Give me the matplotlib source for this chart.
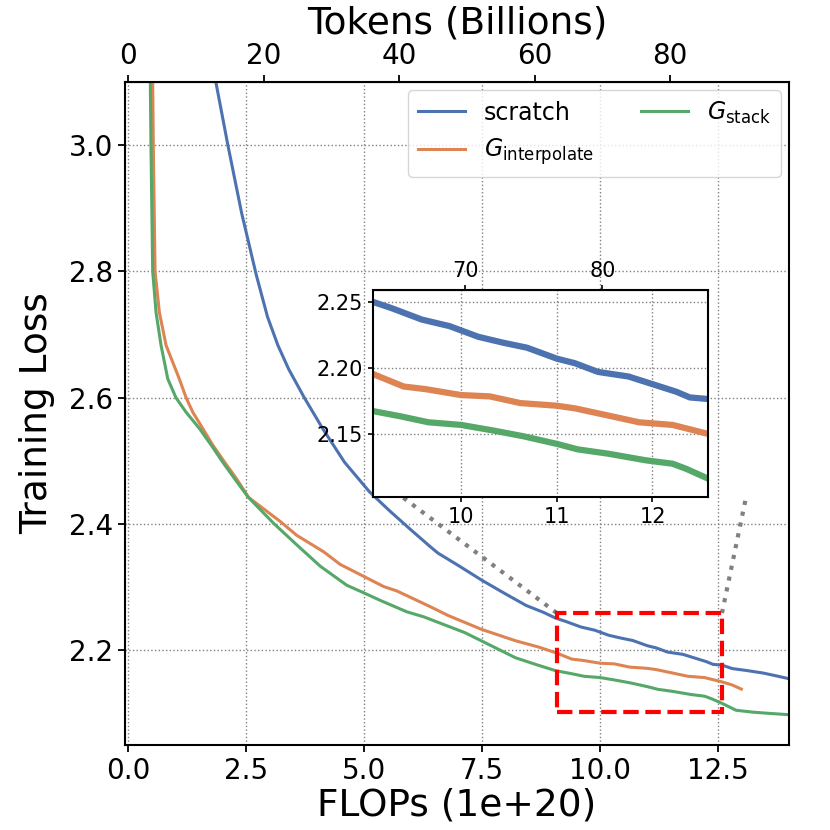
import numpy as np
import matplotlib
matplotlib.use("Agg")
import matplotlib.pyplot as plt
import matplotlib.patches as patches

# ---- data (x: FLOPs in 1e20, y: training loss) ----
scratch_x = [1.80, 1.86, 2.11, 2.40, 2.71, 2.95, 3.17, 3.40, 3.73, 4.12, 4.58, 5.11,
             5.55, 6.00, 6.40, 6.56, 7.00, 7.49, 8.00, 8.43, 8.80,
             9.06, 9.27, 9.59, 9.88, 10.18, 10.44, 10.69, 11.00, 11.19, 11.43, 11.75,
             12.00, 12.25, 12.39, 12.58, 12.80, 13.10, 13.45, 13.70, 14.00]
scratch_y = [3.125, 3.098, 3.00, 2.893, 2.795, 2.728, 2.683, 2.645, 2.60, 2.551, 2.498, 2.451,
             2.42, 2.39, 2.364, 2.354, 2.334, 2.311, 2.289, 2.271, 2.260,
             2.2508, 2.2457, 2.2369, 2.2319, 2.2238, 2.2193, 2.2155, 2.2072, 2.2037, 2.1971, 2.1936,
             2.1878, 2.182, 2.1777, 2.1765, 2.171, 2.168, 2.164, 2.160, 2.155]

interp_x = [0.51, 0.517, 0.53, 0.567, 0.659, 0.80, 1.08, 1.225, 1.367, 1.58, 1.79, 2.04,
            2.29, 2.55, 3.22, 3.57, 4.14, 4.49, 4.99, 5.41, 5.69, 6.40, 6.78, 7.49, 8.21, 8.70,
            9.06, 9.40, 9.63, 10.00, 10.30, 10.62, 11.00, 11.19, 11.54, 11.86, 12.21, 12.58,
            12.80, 12.99]
interp_y = [3.15, 3.098, 3.00, 2.80, 2.735, 2.683, 2.63, 2.60, 2.577, 2.551, 2.525, 2.498,
            2.472, 2.442, 2.404, 2.382, 2.356, 2.336, 2.317, 2.301, 2.294, 2.269, 2.255, 2.233, 2.215, 2.205,
            2.1961, 2.186, 2.184, 2.1795, 2.1785, 2.1734, 2.1714, 2.1694, 2.1639, 2.1588, 2.1568, 2.150,
            2.145, 2.1385]

stack_x = [0.455, 0.467, 0.48, 0.517, 0.588, 0.694, 0.836, 1.01, 1.225, 1.51, 1.756, 2.00,
           2.25, 2.535, 3.08, 3.57, 4.07, 4.63, 4.99, 5.34, 5.90, 6.26, 7.13, 8.21, 8.70,
           9.06, 9.37, 9.66, 10.00, 10.34, 10.65, 11.00, 11.22, 11.54, 11.93, 12.21, 12.35, 12.58,
           12.88, 13.24, 13.60, 14.00]
stack_y = [3.15, 3.098, 3.00, 2.80, 2.735, 2.683, 2.63, 2.60, 2.577, 2.551, 2.525, 2.498,
           2.472, 2.443, 2.401, 2.367, 2.333, 2.303, 2.291, 2.279, 2.261, 2.253, 2.228, 2.188, 2.176,
           2.1676, 2.1633, 2.1588, 2.1568, 2.1525, 2.1482, 2.1424, 2.1382, 2.1349, 2.1299, 2.1273, 2.1235, 2.116,
           2.105, 2.102, 2.100, 2.098]

labels = ["scratch", r"$G_{\mathrm{interpolate}}$", r"$G_{\mathrm{stack}}$"]
colors = ["#4C72B0", "#DD8452", "#55A868"]

tokens_per_flop = 6.97          # Billions of tokens per 1e20 FLOPs (top axis)
zoom_x = (9.08, 12.58)
zoom_y = (2.102, 2.259)


def f2t(x):
    return x * tokens_per_flop


def t2f(t):
    return t / tokens_per_flop


series = [(scratch_x, scratch_y), (interp_x, interp_y), (stack_x, stack_y)]

fig = plt.figure(figsize=(8.3, 8.3), dpi=100)
ax = fig.add_axes([0.1506, 0.1024, 0.80, 0.7988])

for (xs, ys), lab, c in zip(series, labels, colors):
    ax.plot(xs, ys, color=c, lw=2.2, label=lab)

ax.set_xlim(-0.07, 14.0)
ax.set_ylim(2.05, 3.1)
ax.set_xticks([0, 2.5, 5, 7.5, 10, 12.5])
ax.set_yticks([2.2, 2.4, 2.6, 2.8, 3.0])
ax.grid(True, ls=":", color="gray", lw=1)
ax.tick_params(labelsize=20, width=1.3, length=5)
for s in ax.spines.values():
    s.set_linewidth(1.5)
ax.set_xlabel("FLOPs (1e+20)", fontsize=27, labelpad=2)
ax.set_ylabel("Training Loss", fontsize=27, labelpad=10)

top = ax.secondary_xaxis("top", functions=(f2t, t2f))
top.set_xticks([0, 20, 40, 60, 80])
top.tick_params(labelsize=20, width=1.3, length=5)
top.set_xlabel("Tokens (Billions)", fontsize=27, labelpad=6)

ax.legend(loc="upper right", ncol=2, fontsize=17, borderaxespad=0.35)

# zoom box and connector lines
rect = patches.Rectangle((zoom_x[0], zoom_y[0]), zoom_x[1] - zoom_x[0], zoom_y[1] - zoom_y[0],
                         fill=False, ec="red", ls="--", lw=3, zorder=5)
ax.add_patch(rect)
ax.plot([zoom_x[0], 5.75], [zoom_y[1], 2.446], ls=":", color="gray", lw=3, zorder=4)
ax.plot([zoom_x[1], 13.1], [zoom_y[1], 2.446], ls=":", color="gray", lw=3, zorder=4)

# inset
axins = fig.add_axes([0.4494, 0.4012, 0.4036, 0.2488])
for (xs, ys), c in zip(series, colors):
    axins.plot(xs, ys, color=c, lw=4.5)
axins.set_xlim(*zoom_x)
axins.set_ylim(*zoom_y)
axins.set_xticks([10, 11, 12])
axins.set_yticks([2.15, 2.20, 2.25])
axins.grid(True, ls=":", color="gray", lw=1)
axins.tick_params(labelsize=15, width=1.2)
for s in axins.spines.values():
    s.set_linewidth(1.5)
itop = axins.secondary_xaxis("top", functions=(f2t, t2f))
itop.set_xticks([70, 80])
itop.tick_params(labelsize=15, width=1.2)

fig.savefig("out.png", dpi=100)
